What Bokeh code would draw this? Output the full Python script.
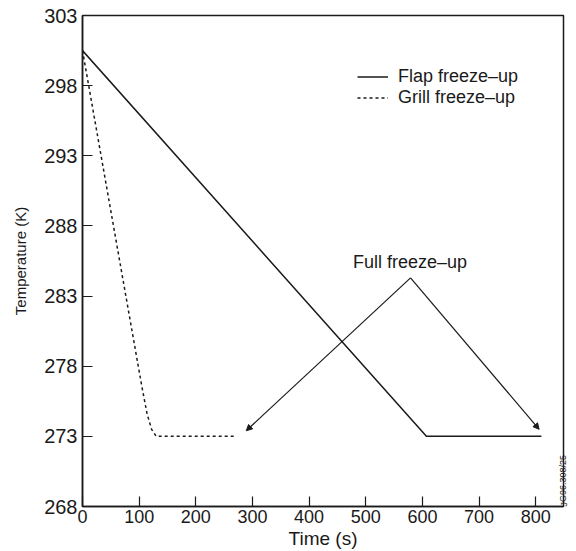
from bokeh.plotting import figure
from bokeh.models import Range1d, FixedTicker, Legend, LegendItem, Label, Arrow, NormalHead, LinearAxis
from bokeh.embed import file_html
from bokeh.resources import INLINE

FONT = "Liberation Sans"
INK = "#1a1a1a"

# Data
flap_t = [0, 607, 810]
flap_T = [300.5, 273.0, 273.0]

grill_t = [0, 105, 114, 122, 130, 268]
grill_T = [300.5, 276.5, 274.6, 273.5, 273.0, 273.0]

full_apex = (579, 284.3)
full_left = (289, 273.4)
full_right = (806, 273.5)

x_ticks = [0, 100, 200, 300, 400, 500, 600, 700, 800]
y_ticks = [268, 273, 278, 283, 288, 293, 298, 303]

p = figure(width=576, height=551, output_backend="svg", toolbar_location=None,
           x_range=Range1d(0, 849), y_range=Range1d(268, 303),
           min_border_left=82, min_border_right=11, min_border_top=15, min_border_bottom=45)

p.background_fill_color = "white"
p.border_fill_color = "white"
p.outline_line_color = INK
p.outline_line_width = 1.5
p.grid.visible = False

for ax in (p.xaxis[0], p.yaxis[0]):
    ax.axis_line_color = INK
    ax.axis_line_width = 1.5
    ax.major_tick_line_color = INK
    ax.major_tick_line_width = 1.2
    ax.major_tick_in = 10
    ax.major_tick_out = 0
    ax.minor_tick_line_color = None
    ax.major_label_text_font = FONT
    ax.major_label_text_color = INK
    ax.axis_label_text_font = FONT
    ax.axis_label_text_font_style = "normal"
    ax.axis_label_text_color = INK

p.xaxis.ticker = FixedTicker(ticks=x_ticks)
p.yaxis.ticker = FixedTicker(ticks=y_ticks)
p.xaxis.major_label_text_font_size = "18px"
p.yaxis.major_label_text_font_size = "20px"
p.xaxis.axis_label_text_font_size = "19px"
p.yaxis.axis_label_text_font_size = "15px"
p.xaxis.major_label_standoff = 3
p.yaxis.major_label_standoff = 5
p.xaxis.axis_label = "Time (s)"
p.yaxis.axis_label = "Temperature (K)"
p.xaxis.axis_label_standoff = 2
p.yaxis.axis_label_standoff = 12

r_flap = p.line(flap_t, flap_T, line_color=INK, line_width=1.5)
r_grill = p.line(grill_t, grill_T, line_color=INK, line_width=1.5, line_dash="3 3")

for end in (full_left, full_right):
    p.add_layout(Arrow(x_start=full_apex[0], y_start=full_apex[1], x_end=end[0], y_end=end[1],
                       line_color=INK, line_width=1.2,
                       end=NormalHead(size=6, fill_color=INK, line_color=INK)))

p.add_layout(Label(x=full_apex[0] - 1, y=full_apex[1] + 0.4, text="Full freeze\u2013up",
                   text_align="center", text_baseline="bottom",
                   text_font=FONT, text_font_size="18px", text_color=INK))

legend = Legend(items=[LegendItem(label="Flap freeze\u2013up", renderers=[r_flap]),
                       LegendItem(label="Grill freeze\u2013up", renderers=[r_grill])],
                location=(275, 398), orientation="vertical",
                glyph_width=31, glyph_height=17, label_height=17, label_standoff=10,
                spacing=0, padding=0, margin=0,
                label_text_font=FONT, label_text_font_size="18px", label_text_color=INK,
                border_line_color=None, background_fill_alpha=0)
p.add_layout(legend)

# figure reference code, written just outside the right edge of the frame
code_axis = LinearAxis(ticker=FixedTicker(ticks=[]), axis_line_color=None,
                       major_tick_line_color=None, minor_tick_line_color=None,
                       major_label_text_font_size="0px",
                       axis_label="JG96.308/25", axis_label_standoff=0,
                       axis_label_orientation=1.5708, axis_label_align="start",
                       axis_label_text_font=FONT, axis_label_text_font_size="9px",
                       axis_label_text_font_style="normal", axis_label_text_color=INK)
p.add_layout(code_axis, "right")

open("out.html", "w").write(file_html(p, INLINE))
